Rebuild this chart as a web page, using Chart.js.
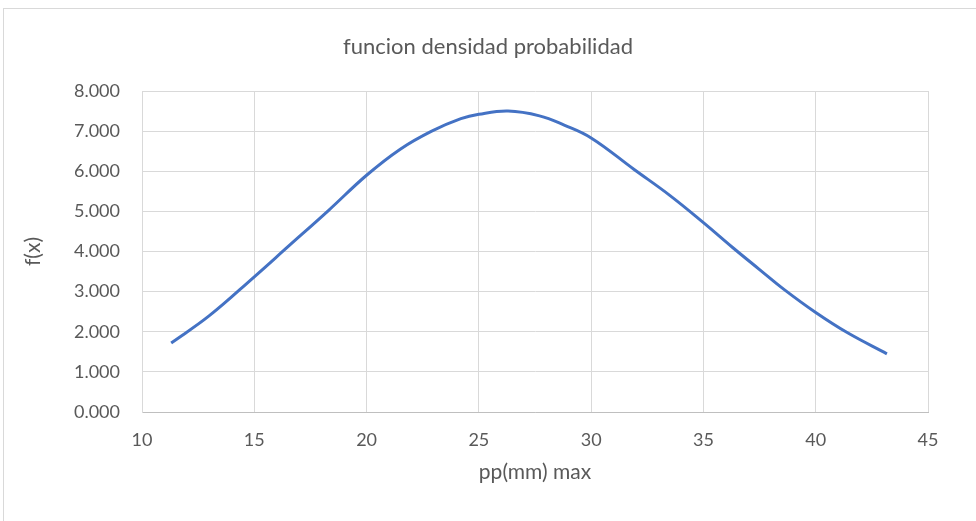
<!DOCTYPE html>
<html>
<head>
<meta charset="utf-8">
<script src="https://cdn.jsdelivr.net/npm/chart.js@4"></script>
<style>
  html, body { margin: 0; padding: 0; background: #fff; }
  #wrap { width: 976px; height: 521px; }
</style>
</head>
<body>
<div id="wrap"><canvas id="chart" width="976" height="521"></canvas></div>
<script>
// pp(mm) max vs f(x)
const ppMax = [11.3, 13.0, 15.0, 16.5, 18.3, 20.0, 21.5, 22.9, 24.2, 25.0, 26.3, 27.7, 28.8, 30.0, 31.9, 33.5, 35.0, 36.3, 37.5, 38.6, 40.0, 41.4, 43.17];
const fx = [1.72, 2.40, 3.37, 4.12, 5.02, 5.90, 6.55, 7.0, 7.31, 7.42, 7.50, 7.38, 7.15, 6.83, 6.05, 5.40, 4.72, 4.10, 3.55, 3.05, 2.48, 1.98, 1.45];

const chartTitle = 'funcion densidad probabilidad';
const xTitle = 'pp(mm) max';
const yTitle = 'f(x)';

const textColor = '#595959';
const gridColor = '#d9d9d9';

Chart.defaults.font.family = "Lato, 'Open Sans', sans-serif";
Chart.defaults.color = textColor;

// thin frame round the whole chart, like the spreadsheet chart box
const frame = {
    id: 'frame',
    beforeDraw(chart) {
        const ctx = chart.ctx;
        ctx.save();
        ctx.strokeStyle = gridColor;
        ctx.lineWidth = 1;
        ctx.strokeRect(3.5, 8.5, 1000, 1000);
        ctx.restore();
    }
};

new Chart(document.getElementById('chart'), {
    type: 'scatter',
    data: {
        datasets: [{
            data: ppMax.map((x, i) => ({ x: x, y: fx[i] })),
            showLine: true,
            borderColor: '#4472C4',
            borderWidth: 3,
            pointRadius: 0,
            tension: 0.4,
            fill: false
        }]
    },
    options: {
        responsive: false,
        animation: false,
        // equal side padding keeps the title centred on the canvas
        layout: { padding: { left: 48, right: 48, top: 10, bottom: 0 } },
        plugins: {
            legend: { display: false },
            tooltip: { enabled: false },
            title: {
                display: true,
                text: chartTitle,
                color: textColor,
                font: { size: 22, weight: 'normal' },
                padding: { top: 24, bottom: 30.6 }
            }
        },
        scales: {
            x: {
                type: 'linear',
                min: 10,
                max: 45,
                ticks: { stepSize: 5, padding: 17, font: { size: 18 }, color: textColor },
                grid: { color: gridColor, drawTicks: false },
                border: { color: '#bfbfbf' },
                title: {
                    display: true,
                    text: xTitle,
                    color: textColor,
                    font: { size: 21 },
                    padding: { top: 0, bottom: 36.4 }
                },
                afterFit(scale) { scale.height = 109; }
            },
            y: {
                min: 0,
                max: 8,
                ticks: {
                    stepSize: 1,
                    padding: 22,
                    font: { size: 18 },
                    color: textColor,
                    callback: v => v.toFixed(3)
                },
                grid: { color: gridColor, drawTicks: false },
                border: { color: gridColor },
                title: {
                    display: true,
                    text: yTitle,
                    color: textColor,
                    font: { size: 21 },
                    padding: { top: -27.6, bottom: 0 }
                },
                afterFit(scale) { scale.width = 94; }
            }
        }
    },
    plugins: [frame]
});
</script>
</body>
</html>
